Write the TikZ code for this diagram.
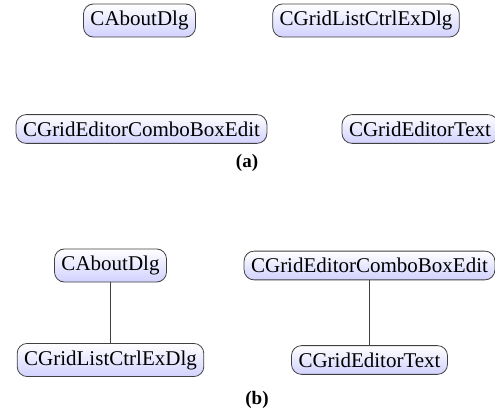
\documentclass[tikz,border=0pt]{standalone}
\usepackage{fontspec}
\setmainfont{Liberation Serif}
\usepackage{tikz}
\usetikzlibrary{calc}

\begin{document}
\begin{tikzpicture}[x=1pt,y=-1pt,
  cls/.style={draw=black!75,line width=0.8pt,rounded corners=10pt,inner sep=7pt,
    top color=white,bottom color=blue!18,font=\fontsize{21}{24}\selectfont},
  sub/.style={font=\fontsize{19}{22}\selectfont\bfseries}]
\useasboundingbox (0,0) rectangle (495,414);
% (a)
\node (aA) at (139.5,20.5) [cls] {CAboutDlg};
\node (aB) at (366,20.5) [cls] {CGridListCtrlExDlg};
\node (aC) at (141.5,129) [cls] {CGridEditorComboBoxEdit};
\node (aD) at (420,129) [cls] {CGridEditorText};
\node (la) at (247,163) [sub] {(a)};
% (b)
\node (bA) at (110.5,265.5) [cls] {CAboutDlg};
\node (bB) at (110.5,360) [cls] {CGridListCtrlExDlg};
\node (bC) at (369.5,265.5) [cls] {CGridEditorComboBoxEdit};
\node (bD) at (369.5,360) [cls] {CGridEditorText};
\draw [black!75,line width=0.8pt] (bA) -- (bB);
\draw [black!75,line width=0.8pt] (bC) -- (bD);
\node (lb) at (257,400) [sub] {(b)};
\end{tikzpicture}
\end{document}
